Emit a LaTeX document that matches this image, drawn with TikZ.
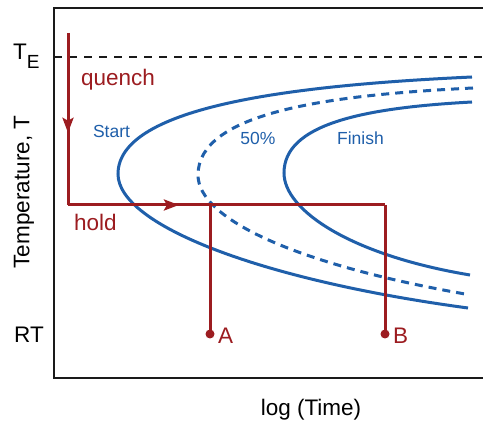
\documentclass[tikz,border=0pt]{standalone}
\usepackage{fontspec}
\setmainfont{Liberation Sans}
\usetikzlibrary{arrows.meta,decorations.markings}
\definecolor{dred}{HTML}{9C1C20}
\definecolor{tblue}{HTML}{1F5FAA}
\definecolor{axis}{HTML}{1A1A1A}
\tikzset{
  big/.style={font=\fontsize{22.5}{27}\selectfont, inner sep=0pt},
  small/.style={font=\fontsize{17.5}{21}\selectfont, inner sep=0pt, text=tblue},
  redtxt/.style={big, text=dred},
  redline/.style={draw=dred, line width=3pt},
  curve/.style={draw=tblue, line width=3pt},
  dcurve/.style={curve, dash pattern=on 8pt off 6pt},
  midarrow/.style={postaction={decorate},
    decoration={markings, mark=at position #1 with {\arrow{Stealth[length=15pt,width=11pt,inset=3pt]}}}},
  dot/.style={circle, fill=dred, inner sep=0pt, minimum size=9pt}
}
\begin{document}
\begin{tikzpicture}[x=1pt,y=-1pt]
\useasboundingbox (0,0) rectangle (483,430);
\fill[white] (0,0) rectangle (483,430);
% axes
\coordinate (tl) at (54,8);
\coordinate (tr) at (483,8);
\coordinate (bl) at (54,378);
\coordinate (br) at (483,378);
\draw[axis, line width=2.2pt] (tr) -- (tl) -- (bl) -- (br);
% TE line
\coordinate (te0) at (54,57);
\coordinate (te1) at (483,57);
\draw[axis, line width=2pt, dash pattern=on 8pt off 7pt] (te0) -- (te1);
% labels
\node[big, anchor=base west] (TE) at (13,60) {T\raisebox{-9pt}{\fontsize{19}{22}\selectfont E}};
\node[big, anchor=east] (RT) at (44,335) {RT};
\node[big, rotate=90] (ylab) at (24,192) {Temperature, T};
\node[big] (xlab) at (311,410) {log (Time)};
% curves
\coordinate (sN) at (118,174);
\coordinate (sU) at (472,77);
\coordinate (sL) at (468,308);
\draw[curve] (sU) .. controls (300,85) and (118,105) .. (sN)
  .. controls (118,225) and (260,280) .. (sL);
\coordinate (hN) at (198,175);
\coordinate (hU) at (473,88);
\coordinate (hL) at (465,294);
\draw[dcurve] (hU) .. controls (330,95) and (198,112) .. (hN)
  .. controls (198,220) and (300,265) .. (hL);
\coordinate (fN) at (284,173);
\coordinate (fU) at (472,102);
\coordinate (fL) at (470,275);
\draw[curve] (fU) .. controls (360,108) and (284,125) .. (fN)
  .. controls (284,210) and (350,255) .. (fL);
\node[small] (start) at (111.5,131) {Start};
\node[small] (half) at (258,138) {50\%};
\node[small] (finish) at (360.5,138) {Finish};
% heat treatment path
\coordinate (q0) at (68,33);
\coordinate (q1) at (68,205);
\coordinate (h1) at (385,205);
\coordinate (a0) at (210,205);
\node[dot] (A) at (210,334) {};
\node[dot] (B) at (385,334) {};
\draw[redline, midarrow=0.58] (q0) -- (q1);
\draw[redline, midarrow=0.35] (q1) -- (h1);
\draw[redline] (h1) -- (B.center);
\draw[redline] (a0) -- (A.center);
\node[redtxt, anchor=west] (quench) at (81,80) {quench};
\node[redtxt, anchor=west] (hold) at (74,222) {hold};
\node[redtxt, anchor=west] (Alab) at (218,336) {A};
\node[redtxt, anchor=west] (Blab) at (393,336) {B};
\end{tikzpicture}
\end{document}
